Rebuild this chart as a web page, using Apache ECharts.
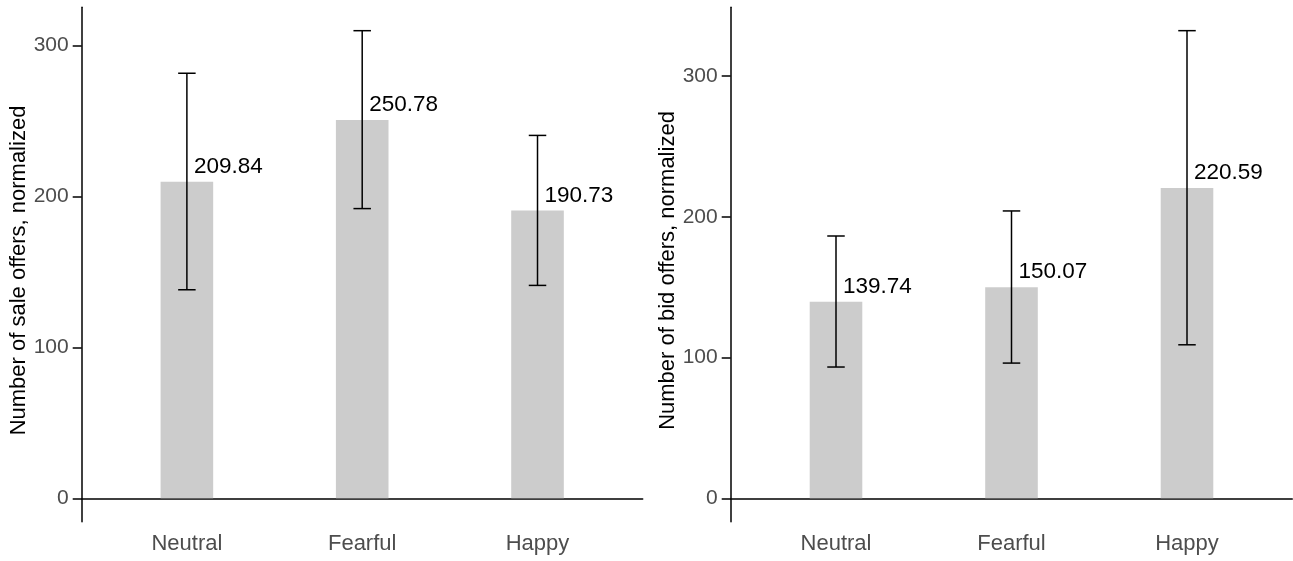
<!DOCTYPE html>
<html>
<head>
<meta charset="utf-8">
<script src="https://cdn.jsdelivr.net/npm/echarts@6/dist/echarts.min.js"></script>
<style>
  html, body { margin: 0; padding: 0; background: #ffffff; }
  #chart { width: 1293px; height: 561px; }
</style>
</head>
<body>
<div id="chart"></div>
<script>
// ---- data ----
const categories = ['Neutral', 'Fearful', 'Happy'];
const catPositions = [1, 2, 3];
const saleMeans = [209.84, 250.78, 190.73];
const saleLow = [138.2, 192.0, 141.1];
const saleHigh = [281.7, 309.9, 240.5];
const bidMeans = [139.74, 150.07, 220.59];
const bidLow = [93.3, 96.1, 109.1];
const bidHigh = [186.4, 204.2, 332.3];
const yTickValues = [0, 100, 200, 300];
const saleTitle = 'Number of sale offers, normalized';
const bidTitle = 'Number of bid offers, normalized';

// ---- styling ----
const FONT = 'Liberation Sans, Arial, sans-serif';
const TICK_COLOR = '#4d4d4d';
const BAR_COLOR = '#cccccc';

const chart = echarts.init(document.getElementById('chart'), null, { renderer: 'canvas' });

function xAxisFor(gridIndex) {
  return {
    type: 'value', gridIndex, min: 0.4, max: 3.6,
    splitLine: { show: false },
    axisLine: { show: true, onZero: true, lineStyle: { color: '#000', width: 1.5 } },
    axisTick: { show: false },
    axisLabel: {
      customValues: catPositions,
      formatter: v => categories[Math.round(v) - 1] || '',
      color: TICK_COLOR, fontSize: 22, fontFamily: FONT, margin: 11
    }
  };
}
function yAxisFor(gridIndex, min, max, name) {
  return {
    type: 'value', gridIndex, min, max,
    name, nameLocation: 'middle', nameGap: 49,
    nameTextStyle: { color: '#000', fontSize: 22, fontFamily: FONT, padding: [0, 12, 0, 0] },
    splitLine: { show: false },
    axisLine: { show: true, onZero: false, lineStyle: { color: '#000', width: 1.5 } },
    axisTick: { show: true, length: 9, customValues: yTickValues, lineStyle: { color: '#000', width: 1.5 } },
    axisLabel: { customValues: yTickValues, color: TICK_COLOR, fontSize: 21, fontFamily: FONT, margin: 13 }
  };
}
function barSeries(idx, means) {
  return {
    type: 'bar', xAxisIndex: idx, yAxisIndex: idx,
    data: means.map((m, i) => [catPositions[i], m]),
    barWidth: 52.6,
    itemStyle: { color: BAR_COLOR },
    label: {
      show: true, position: 'top', align: 'left', distance: 3.5, offset: [7, 0],
      formatter: p => p.value[1].toFixed(2),
      color: '#000', fontSize: 22.5, fontFamily: FONT
    },
    silent: true, z: 2
  };
}
function errSeries(idx, lows, highs) {
  return {
    type: 'custom', xAxisIndex: idx, yAxisIndex: idx,
    data: lows.map((l, i) => [catPositions[i], l, highs[i]]),
    encode: { x: 0, y: [1, 2] },
    renderItem: (params, api) => {
      const x = api.value(0);
      const pLo = api.coord([x, api.value(1)]);
      const pHi = api.coord([x, api.value(2)]);
      const hw = 8.75;
      const style = { stroke: '#000', lineWidth: 1.5 };
      return {
        type: 'group',
        children: [
          { type: 'line', shape: { x1: pLo[0], y1: pLo[1], x2: pHi[0], y2: pHi[1] }, style },
          { type: 'line', shape: { x1: pLo[0] - hw, y1: pLo[1], x2: pLo[0] + hw, y2: pLo[1] }, style },
          { type: 'line', shape: { x1: pHi[0] - hw, y1: pHi[1], x2: pHi[0] + hw, y2: pHi[1] }, style }
        ]
      };
    },
    silent: true, z: 3
  };
}

chart.setOption({
  animation: false,
  backgroundColor: '#ffffff',
  textStyle: { fontFamily: FONT },
  grid: [
    { left: 81.7, width: 561, top: 7.3, bottom: 39.3, containLabel: false, outerBoundsMode: 'none' },
    { left: 730.7, width: 561.6, top: 7.3, bottom: 39.3, containLabel: false, outerBoundsMode: 'none' }
  ],
  xAxis: [xAxisFor(0), xAxisFor(1)],
  yAxis: [yAxisFor(0, -15.5, 325.4, saleTitle), yAxisFor(1, -16.6, 348.9, bidTitle)],
  series: [
    barSeries(0, saleMeans), errSeries(0, saleLow, saleHigh),
    barSeries(1, bidMeans), errSeries(1, bidLow, bidHigh)
  ]
});
</script>
</body>
</html>
